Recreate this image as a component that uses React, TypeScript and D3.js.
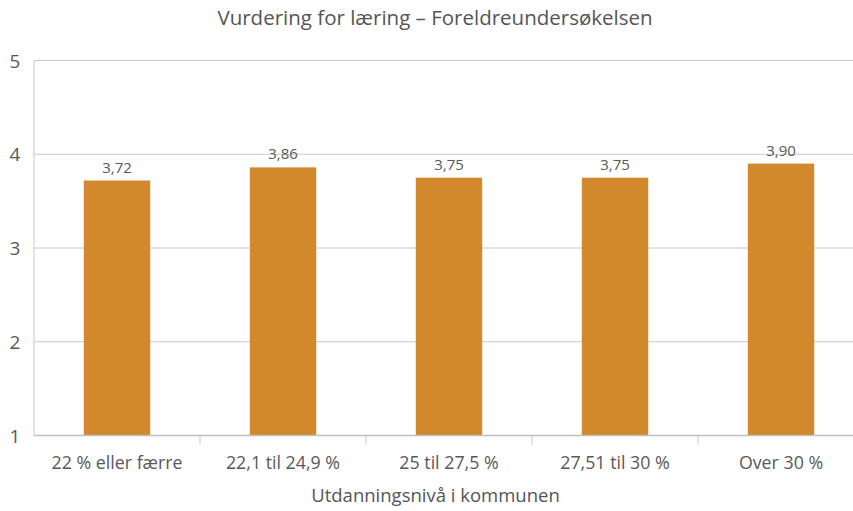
import React from "react";
import * as d3 from "d3";

const categories = ["22 % eller færre", "22,1 til 24,9 %", "25 til 27,5 %", "27,51 til 30 %", "Over 30 %"];
const values = [3.72, 3.86, 3.75, 3.75, 3.9];
const yTicks = [1, 2, 3, 4, 5];

export default function App() {
  const W = 853, H = 511;
  const left = 34, right = 864, top = 60.5, bottom = 435.5;
  const x = d3.scaleBand<string>().domain(categories).range([left, right]).paddingInner(0).paddingOuter(0);
  const y = d3.scaleLinear().domain([1, 5]).range([bottom, top]);
  const bw = x.bandwidth() * 0.4;
  const font = "'Open Sans', sans-serif";
  return (
    <svg width={W} height={H} style={{ position: "absolute", left: 0, top: 0, background: "#fff" }} fontFamily={font}>
      <text x={435} y={25} textAnchor="middle" fontSize={20.5} fontWeight={500} fill="#555">Vurdering for læring – Foreldreundersøkelsen</text>
      {yTicks.map((t) => (
        <g key={t}>
          {t > 1 && <line x1={left} x2={W} y1={y(t)} y2={y(t)} stroke="#c8c8c8" strokeWidth={1} />}
          <text x={15} y={y(t) + 7} textAnchor="middle" fontSize={19} fill="#595959">{t}</text>
        </g>
      ))}
      <line x1={left} x2={left} y1={top} y2={bottom} stroke="#c8c8c8" strokeWidth={1} />
      {categories.map((c, i) => {
        const cx = (x(c) as number) + x.bandwidth() / 2;
        return (
          <g key={c}>
            <rect x={cx - bw / 2} y={y(values[i])} width={bw} height={bottom - y(values[i])} fill="#D2892B" />
            <text x={cx} y={y(values[i]) - 8} textAnchor="middle" fontSize={15} fill="#595959">{values[i].toFixed(2).replace(".", ",")}</text>
            <text x={cx} y={469} textAnchor="middle" fontSize={17.8} fill="#595959">{c}</text>
            {i > 0 && <line x1={x(c)} x2={x(c)} y1={bottom} y2={bottom + 9} stroke="#c8c8c8" />}
          </g>
        );
      })}
      <line x1={left} x2={W} y1={bottom} y2={bottom} stroke="#c0c0c0" strokeWidth={1.5} />
      <text x={435.5} y={502} textAnchor="middle" fontSize={18.5} fontWeight={500} fill="#555">Utdanningsnivå i kommunen</text>
    </svg>
  );
}
